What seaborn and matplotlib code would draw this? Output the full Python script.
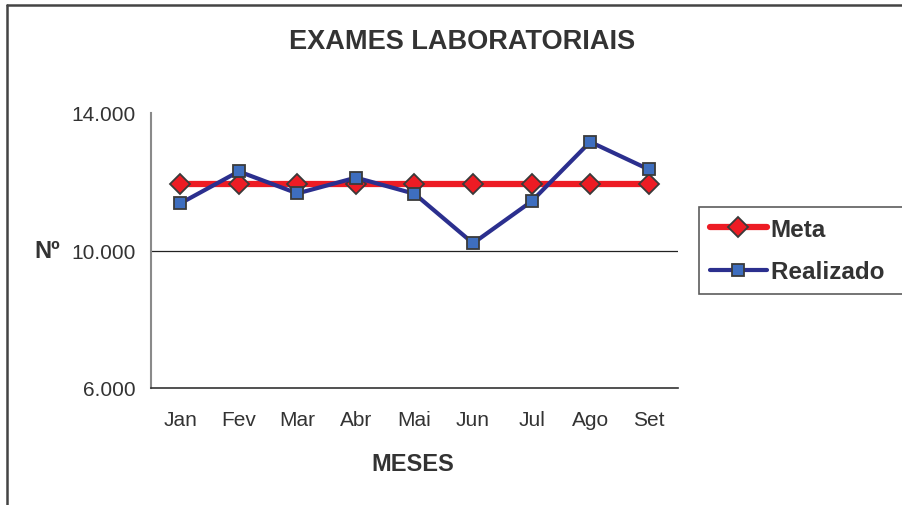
import pandas as pd
import seaborn as sns
import matplotlib.pyplot as plt
from matplotlib import ticker
from matplotlib.lines import Line2D

# data
meses = ['Jan', 'Fev', 'Mar', 'Abr', 'Mai', 'Jun', 'Jul', 'Ago', 'Set']
meta = [11930, 11930, 11930, 11930, 11930, 11930, 11930, 11930, 11930]
realizado = [11370, 12300, 11660, 12120, 11650, 10210, 11430, 13160, 12360]
y_ticks = [6000, 10000, 14000]

df = pd.DataFrame({'mes': meses, 'Meta': meta, 'Realizado': realizado})

sns.set_style('white')
plt.rcParams['font.family'] = ['Liberation Sans', 'DejaVu Sans']
txt = '#333333'

fig = plt.figure(figsize=(9.03, 5.06), dpi=100)
ax = fig.add_axes([151/903, 1-389/506, 527/903, 275/506])

ax.axhline(10000, color='#222222', lw=0.9, zorder=1)

sns.lineplot(data=df, x='mes', y='Meta', ax=ax, color='#ED1C24', linewidth=4.5,
             marker='D', markersize=10.5, markerfacecolor='#ED1C24',
             markeredgecolor='#3a3a3a', markeredgewidth=1.3, zorder=3)
sns.lineplot(data=df, x='mes', y='Realizado', ax=ax, color='#2B2F8E', linewidth=3,
             marker='s', markersize=9, markerfacecolor='#3E6EBF',
             markeredgecolor='#3a3a3a', markeredgewidth=1.3, zorder=4)

ax.set_xlim(-0.5, len(meses) - 0.5)
ax.set_ylim(y_ticks[0], y_ticks[-1])
ax.yaxis.set_major_locator(ticker.FixedLocator(y_ticks))
ax.yaxis.set_major_formatter(ticker.FuncFormatter(lambda v, p: f'{int(v):,}'.replace(',', '.')))
ax.xaxis.set_minor_locator(ticker.FixedLocator([i - 0.5 for i in range(len(meses) + 1)]))
ax.tick_params(axis='x', which='major', length=0, pad=16, labelsize=15, labelcolor=txt)
ax.tick_params(axis='x', which='minor', length=5, width=1, color='#555555', direction='out')
ax.tick_params(axis='y', which='major', length=6, width=1, color='#555555', direction='out',
               pad=5, labelsize=15, labelcolor=txt)

for s in ['top', 'right']:
    ax.spines[s].set_visible(False)
ax.spines['left'].set_color('#8a8a8a')
ax.spines['left'].set_linewidth(1.5)
ax.spines['bottom'].set_color('#333333')
ax.spines['bottom'].set_linewidth(1.2)
ax.set_xlabel('')
ax.set_ylabel('')

fig.text(462/903, 1-42/506, 'EXAMES LABORATORIAIS', ha='center', va='center',
         fontsize=19.5, fontweight='bold', color=txt)
fig.text(413/903, 1-465/506, 'MESES', ha='center', va='center',
         fontsize=17, fontweight='bold', color=txt)
fig.text(47/903, 1-251/506, 'Nº', ha='center', va='center',
         fontsize=17, fontweight='bold', color=txt)

leg = ax.legend(handles=ax.get_lines()[1:3], labels=['Meta', 'Realizado  '],
                loc='upper left', bbox_to_anchor=(699/903, 1-208/506),
                bbox_transform=fig.transFigure, frameon=True, fancybox=False,
                edgecolor='#333333', handlelength=2.35, handletextpad=0.15,
                labelspacing=0.8, borderpad=0.45, borderaxespad=0,
                prop={'size': 17.5, 'weight': 'bold'})
leg.get_frame().set_linewidth(1.2)
for t in leg.get_texts():
    t.set_color(txt)

# outer chart frame (top and left edge)
fig.add_artist(Line2D([7/903, 902/903], [1-6/506, 1-6/506], color='#444444', lw=1.8))
fig.add_artist(Line2D([7/903, 7/903], [1-6/506, 0], color='#444444', lw=1.8))

plt.savefig('out.png', dpi=100)
